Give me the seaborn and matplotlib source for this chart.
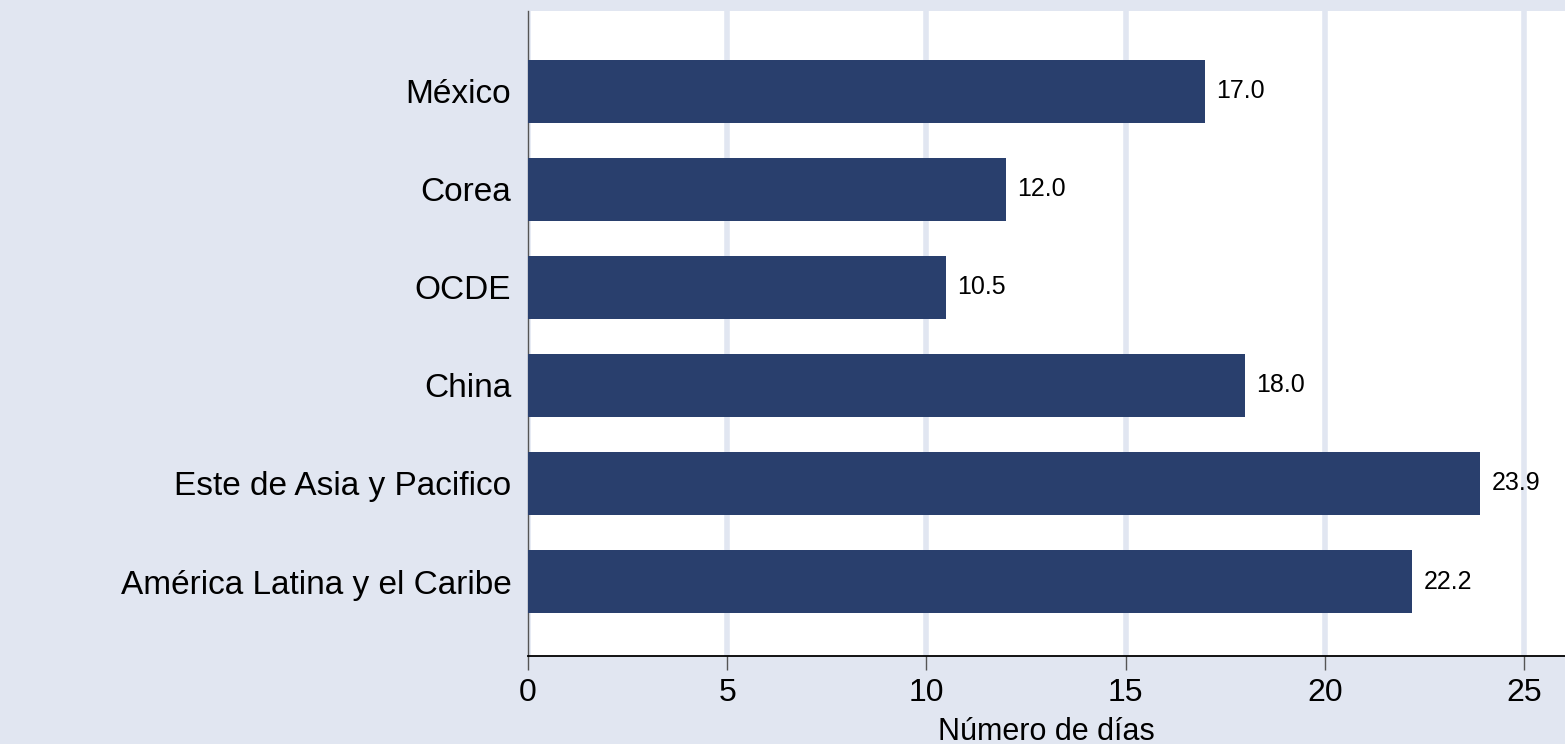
import matplotlib
matplotlib.use("Agg")
import matplotlib.pyplot as plt
import numpy as np
import pandas as pd
import seaborn as sns

# datos
regiones = ["México", "Corea", "OCDE", "China",
            "Este de Asia y Pacifico", "América Latina y el Caribe"]
dias = [17.0, 12.0, 10.5, 18.0, 23.9, 22.2]
ticks_x = [0, 5, 10, 15, 20, 25]

bg = "#e1e6f1"
bar_color = "#293f6d"

df = pd.DataFrame({"region": regiones, "dias": dias})

sns.set_theme(style="white")
plt.rcParams["font.family"] = ["Liberation Sans", "DejaVu Sans"]

fig = plt.figure(figsize=(15.65, 7.44), dpi=100, facecolor=bg)
ax = fig.add_axes([528 / 1565, 1 - 656 / 744, (1565 - 528) / 1565, (656 - 11) / 744])
ax.set_facecolor("white")

sns.barplot(data=df, x="dias", y="region", color=bar_color, width=0.64,
            saturation=1, ax=ax, zorder=3, edgecolor=bar_color, linewidth=0)

for c in ax.containers:
    ax.bar_label(c, labels=[f"{v:.1f}" for v in dias], padding=8,
                 fontsize=18, color="black")

ax.set_xlim(0, 26.03)
ax.set_ylim(5.76, -0.82)
ax.set_xticks(ticks_x)
ax.set_xticklabels([str(t) for t in ticks_x], fontsize=23, color="black")
ax.grid(axis="x", color=bg, linewidth=4, zorder=0)
ax.set_axisbelow(True)
ax.tick_params(axis="x", length=10, width=1, color="#555555", pad=6,
               bottom=True)
ax.tick_params(axis="y", length=0, pad=12, labelsize=24, labelcolor="black")
ax.set_ylabel("")
ax.set_xlabel("")
fig.text((528 + 1565) / 2 / 1565, 4 / 744, "Número de días", fontsize=22,
         color="black", ha="center", va="baseline")

for s in ["top", "right"]:
    ax.spines[s].set_visible(False)
ax.spines["bottom"].set_color("black")
ax.spines["bottom"].set_linewidth(1.3)
ax.spines["left"].set_color("#555555")
ax.spines["left"].set_linewidth(1)

fig.savefig("out.png", dpi=100, facecolor=bg)
